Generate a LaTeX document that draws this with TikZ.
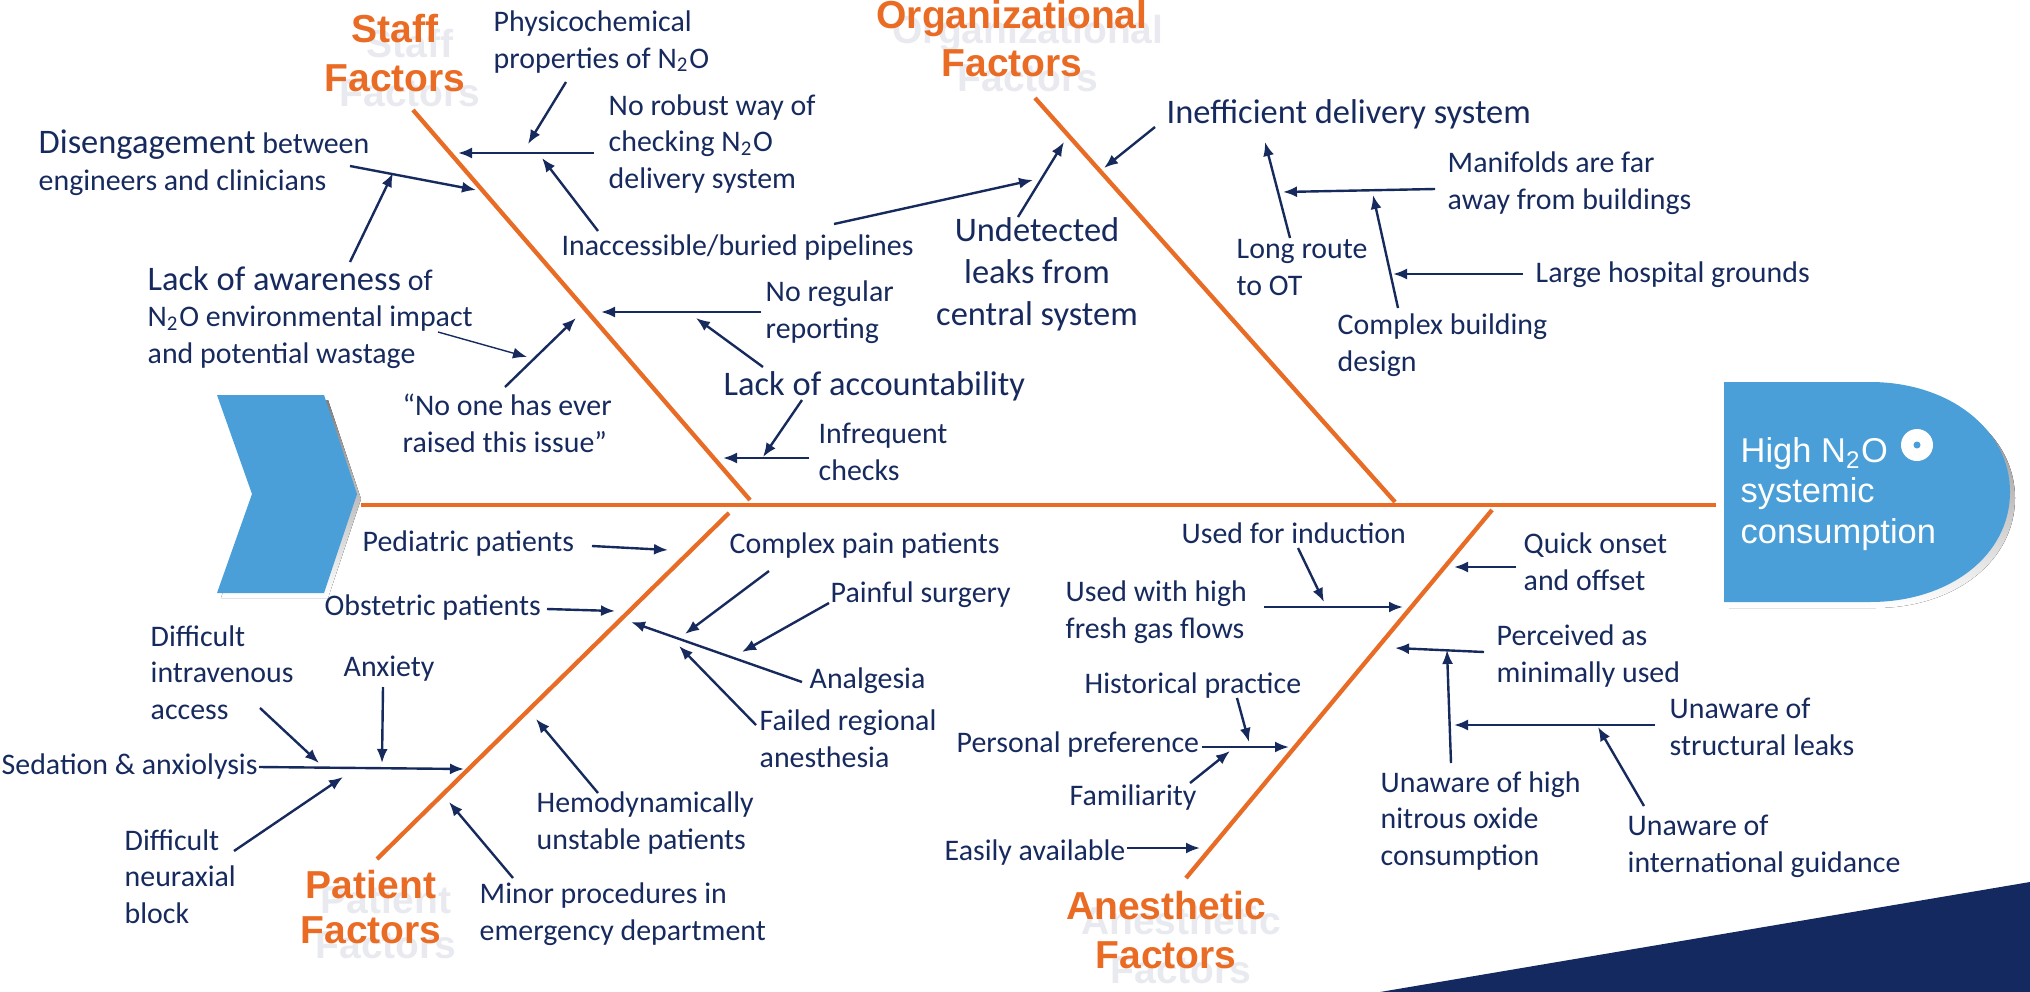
\documentclass[tikz,border=0pt]{standalone}
\usepackage{fontspec}
\setmainfont{Carlito}
\newfontfamily\catfont{Liberation Sans}
\usetikzlibrary{arrows.meta}
\definecolor{orng}{HTML}{E96B24}
\definecolor{navy}{HTML}{172A5E}
\definecolor{fishblue}{HTML}{4A9FD8}
\definecolor{darknavy}{HTML}{13295F}
\definecolor{ghost}{HTML}{E8EAF0}
\definecolor{shade}{HTML}{DCDCDC}
\newcommand\fbconn[4][arr]{\coordinate (#2-s) at #3; \coordinate (#2-e) at #4; \draw[#1] (#2-s) -- (#2-e);}
\newcommand\bigt[1]{{\fontsize{9.8}{10.25}\selectfont #1}}
\begin{document}
\begin{tikzpicture}[x=0.1mm,y=-0.1mm,
  bone/.style={draw=orng,line width=0.42mm},
  boneshadow/.style={draw=shade,line width=0.42mm},
  arr/.style={draw=navy,line width=0.24mm,-{Latex[length=1.4mm,width=1.1mm]}},
  thinarr/.style={arr,line width=0.14mm},
  lbl/.style={text=navy,inner sep=0pt,anchor=base west,align=left,font=\fontsize{8.5}{10.25}\selectfont},
  biglbl/.style={lbl,font=\fontsize{9.8}{11.9}\selectfont},
  cat/.style={text=orng,inner sep=0pt,anchor=base,align=center,font=\catfont\bfseries\fontsize{11.1}{13.8}\selectfont},
  catghost/.style={cat,text=ghost},
  tightcat/.style={font=\catfont\bfseries\fontsize{11.1}{12.8}\selectfont},
  headtxt/.style={text=white,inner sep=0pt,anchor=base west,align=left,font=\catfont\fontsize{9.8}{11.4}\selectfont}
]
\useasboundingbox (0,0) rectangle (2030,992);

% dark corner
\fill[darknavy] (1380,992) -- (2030,882) -- (2030,992) -- cycle;

% chevron (tail)
\fill[shade] (221,400) -- (328,400) -- (361,499) -- (328,598) -- (221,598) -- (256,499) -- cycle;
\fill[fishblue] (217,395) -- (324,395) -- (357,494) -- (324,593) -- (217,593) -- (252,494) -- cycle;

% head
\fill[shade] (1729,388) -- (1875,388) .. controls (1955,388) and (2015,436) .. (2015,498) .. controls (2015,561) and (1955,608) .. (1875,608) -- (1729,608) -- cycle;
\fill[fishblue] (1724,382) -- (1870,382) .. controls (1950,382) and (2010,430) .. (2010,492) .. controls (2010,555) and (1950,602) .. (1870,602) -- (1724,602) -- cycle;
\node[headtxt] (head) at (1740,543) {High N\textsubscript{2}O\\systemic\\consumption};
\node[circle,fill=white,minimum size=3.2mm,inner sep=0pt] (dot) at (1917,445) {};
\node[circle,fill=fishblue,minimum size=0.7mm,inner sep=0pt] (dotc) at (dot) {};

% bones
\coordinate (sp1) at (361,505); \coordinate (sp2) at (1716,505);
\coordinate (st1) at (413,110); \coordinate (st2) at (750,500);
\coordinate (or1) at (1035,98); \coordinate (or2) at (1395,502);
\coordinate (pa1) at (729,513); \coordinate (pa2) at (377,859);
\coordinate (an1) at (1492,510); \coordinate (an2) at (1186,878);
\begin{scope}[shift={(3,4)}]
\draw[boneshadow] (sp1) -- (sp2);
\draw[boneshadow] (st1) -- (st2);
\draw[boneshadow] (or1) -- (or2);
\draw[boneshadow] (pa1) -- (pa2);
\draw[boneshadow] (an1) -- (an2);
\end{scope}
\draw[bone] (sp1) -- (sp2);
\draw[bone] (st1) -- (st2);
\draw[bone] (or1) -- (or2);
\draw[bone] (pa1) -- (pa2);
\draw[bone] (an1) -- (an2);

% category labels (anchored at last line)
\node[catghost] (stG) at (410,106) {Staff\\Factors};
\node[cat] (stL) at (395,91) {Staff\\Factors};
\node[catghost] (orG) at (1028,92) {Organizational\\Factors};
\node[cat] (orL) at (1012,77) {Organizational\\Factors};
\node[catghost,tightcat] (paG) at (386,958) {Patient\\Factors};
\node[cat,tightcat] (paL) at (371,943) {Patient\\Factors};
\node[catghost] (anG) at (1181,983) {Anesthetic\\Factors};
\node[cat] (anL) at (1166,968) {Anesthetic\\Factors};

% staff texts
\node[lbl] (phys) at (493,68) {Physicochemical\\properties of N\textsubscript{2}O};
\node[lbl] (norob) at (608,188) {No robust way of\\checking N\textsubscript{2}O\\delivery system};
\node[lbl] (disen) at (38,190) {\bigt{Disengagement} between\\engineers and clinicians};
\node[lbl] (inacc) at (561,255) {Inaccessible/buried pipelines};
\node[lbl] (lackaw) at (147,363) {\bigt{Lack of awareness} of\\N\textsubscript{2}O environmental impact\\and potential wastage};
\node[lbl] (noreg) at (765,338) {No regular\\reporting};
\node[biglbl] (lackacc) at (723,395) {Lack of accountability};
\node[lbl] (noone) at (402,452) {“No one has ever\\raised this issue”};
\node[lbl] (infreq) at (818,480) {Infrequent\\checks};

% organizational texts
\node[biglbl] (ineff) at (1166,123) {Inefficient delivery system};
\node[biglbl,anchor=base,align=center] (undet) at (1037,325) {Undetected\\leaks from\\central system};
\node[lbl] (manif) at (1447,209) {Manifolds are far\\away from buildings};
\node[lbl] (longr) at (1236,295) {Long route\\to OT};
\node[lbl] (large) at (1535,282) {Large hospital grounds};
\node[lbl] (cbuild) at (1337,371) {Complex building\\design};

% patient texts
\node[lbl] (pedi) at (362,551) {Pediatric patients};
\node[lbl] (obst) at (324,615) {Obstetric patients};
\node[lbl] (ivacc) at (150,719) {Difficult\\intravenous\\access};
\node[lbl] (anx) at (343,676) {Anxiety};
\node[lbl] (sed) at (1,774) {Sedation \& anxiolysis};
\node[lbl] (neur) at (124,923) {Difficult\\neuraxial\\block};
\node[lbl] (hemo) at (536,849) {Hemodynamically\\unstable patients};
\node[lbl] (minor) at (479,940) {Minor procedures in\\emergency department};
\node[lbl] (cpain) at (729,553) {Complex pain patients};
\node[lbl] (painf) at (830,602) {Painful surgery};
\node[lbl] (analg) at (809,688) {Analgesia};
\node[lbl] (failed) at (759,767) {Failed regional\\anesthesia};

% anesthetic texts
\node[lbl] (induct) at (1181,543) {Used for induction};
\node[lbl] (hiflow) at (1065,638) {Used with high\\fresh gas flows};
\node[lbl] (hist) at (1084,693) {Historical practice};
\node[lbl] (pers) at (956,752) {Personal preference};
\node[lbl] (famil) at (1069,805) {Familiarity};
\node[lbl] (easy) at (944,860) {Easily available};
\node[lbl] (quick) at (1523,590) {Quick onset\\and offset};
\node[lbl] (perc) at (1496,682) {Perceived as\\minimally used};
\node[lbl] (struct) at (1669,755) {Unaware of\\structural leaks};
\node[lbl] (unhigh) at (1380,865) {Unaware of high\\nitrous oxide\\consumption};
\node[lbl] (intl) at (1627,872) {Unaware of\\international guidance};

% arrows - staff
\fbconn{aphys}{(566,82)}{(528,144)}
\fbconn{anorob}{(594,153)}{(458,153)}
\fbconn{ainacc}{(598,231)}{(542,158)}
\fbconn{adisen}{(350,166)}{(476,190)}
\fbconn{alackaw}{(350,262)}{(393,173)}
\fbconn[thinarr]{aimpact}{(438,332)}{(527,357)}
\fbconn{anoone}{(505,387)}{(576,318)}
\fbconn{anoreg}{(761,312)}{(601,312)}
\fbconn{alackacc}{(763,367)}{(696,318)}
\fbconn{alackaccb}{(802,400)}{(763,457)}
\fbconn{ainfreq}{(809,458)}{(723,458)}
% arrows - organizational
\fbconn{apipe}{(834,224)}{(1033,180)}
\fbconn{aundet}{(1018,217)}{(1064,142)}
\fbconn{aineff}{(1155,127)}{(1104,168)}
\fbconn{alongr}{(1290,238)}{(1265,142)}
\fbconn{amanif}{(1435,189)}{(1283,192)}
\fbconn{acbuild}{(1398,308)}{(1373,195)}
\fbconn{alarge}{(1523,274)}{(1393,274)}
% arrows - patient
\fbconn{apedi}{(592,546)}{(668,550)}
\fbconn{aobst}{(547,609)}{(615,611)}
\fbconn{aiv}{(260,708)}{(319,763)}
\fbconn{aanx}{(383,687)}{(382,763)}
\fbconn{ased}{(259,767)}{(464,769)}
\fbconn{aneur}{(234,851)}{(343,777)}
\fbconn{ahemo}{(598,793)}{(536,719)}
\fbconn{aminor}{(513,878)}{(449,802)}
\fbconn{acpain}{(769,571)}{(685,634)}
\fbconn{apainf}{(829,603)}{(742,652)}
\fbconn{aanalg}{(802,682)}{(631,622)}
\fbconn{afailed}{(756,725)}{(679,646)}
% arrows - anesthetic
\fbconn{ainduct}{(1298,548)}{(1324,602)}
\fbconn{ahiflow}{(1264,607)}{(1403,607)}
\fbconn{ahist}{(1237,698)}{(1249,742)}
\fbconn{apers}{(1202,747)}{(1289,747)}
\fbconn{afamil}{(1190,783)}{(1230,751)}
\fbconn{aeasy}{(1127,848)}{(1200,848)}
\fbconn{aquick}{(1516,567)}{(1454,567)}
\fbconn{aperc}{(1484,652)}{(1395,648)}
\fbconn{aunhigh}{(1451,763)}{(1447,650)}
\fbconn{astruct}{(1655,725)}{(1454,725)}
\fbconn{aintl}{(1644,806)}{(1598,727)}
\end{tikzpicture}
\end{document}
